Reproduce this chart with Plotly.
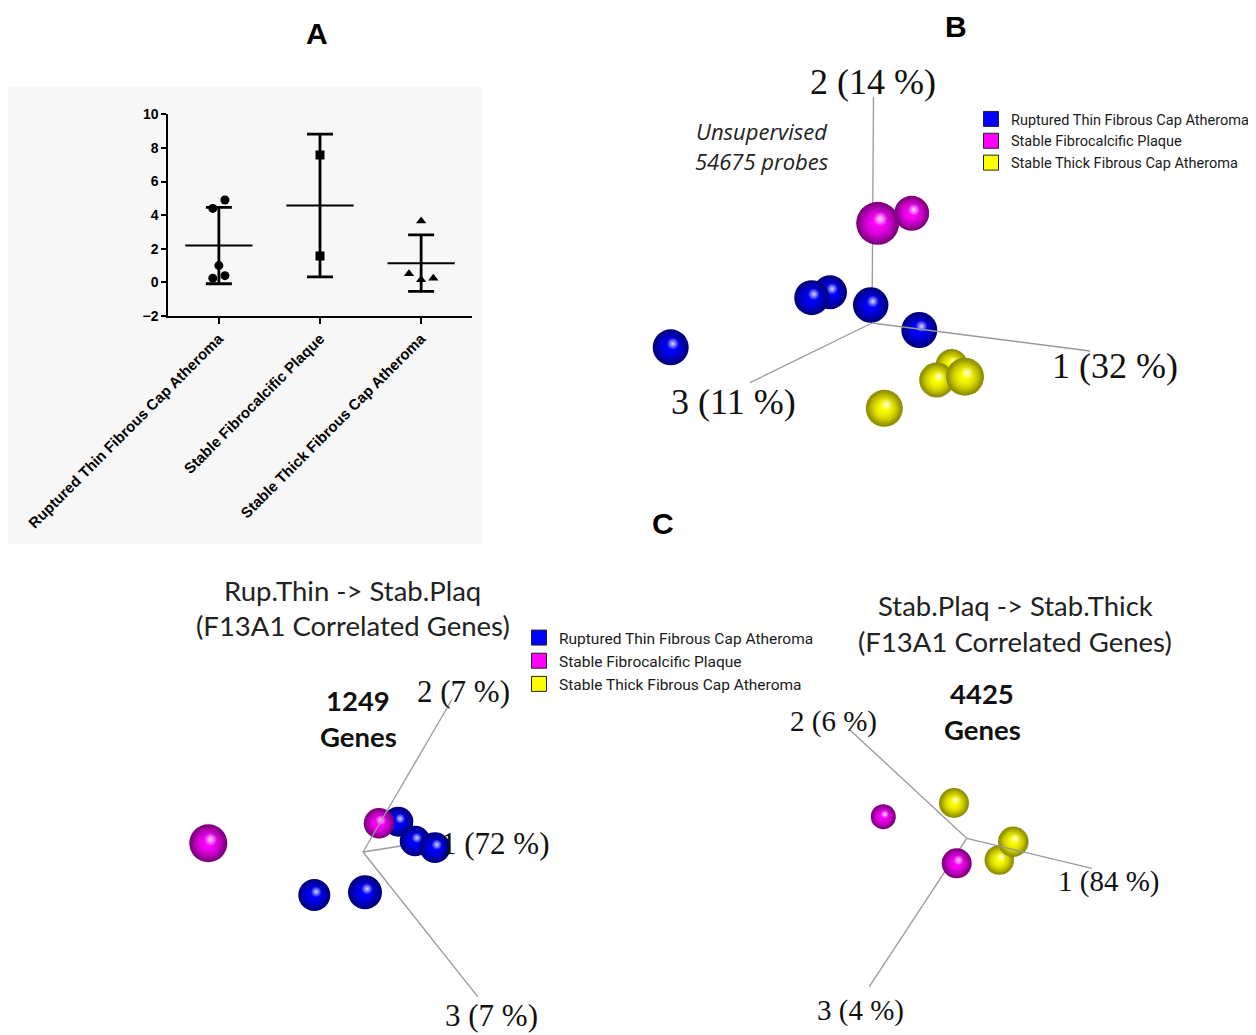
import statistics
import plotly.graph_objects as go

W, H = 1256, 1035          # browser window
OFF = 8                    # default page margin of the html body
FW, FH = W - OFF, H - OFF  # figure size so that it fills the window

# ---------------- Panel A data ----------------
categories_a = ["Ruptured Thin Fibrous Cap Atheroma",
                "Stable Fibrocalcific Plaque",
                "Stable Thick Fibrous Cap Atheroma"]
rupt_thin_values = [4.9, 4.4, 1.0, 0.25, 0.4]
stab_plaq_values = [7.58, 1.57]
stab_thick_values = [3.65, 0.52, 0.15, 0.25]
y_ticks_a = [-2, 0, 2, 4, 6, 8, 10]

# ---------------- PCA data (projected PC coordinates, depth) ----------------
legend_names = ["Ruptured Thin Fibrous Cap Atheroma",
                "Stable Fibrocalcific Plaque",
                "Stable Thick Fibrous Cap Atheroma"]

# Panel B (unsupervised, 54675 probes)
b_blue_x = [-60.3, -42.0, -1.3, 47.3, -201.3]
b_blue_y = [25.3, 30.7, 18.0, -7.0, -24.3]
b_blue_z = [-1.0, -2.0, -0.5, 0.0, 0.0]
b_mag_x = [5.7, 39.7]
b_mag_y = [99.7, 109.7]
b_mag_z = [7.0, -1.0]
b_yel_x = [79.7, 64.7, 93.0, 12.3]
b_yel_y = [-42.0, -57.0, -53.7, -85.3]
b_yel_z = [-4.0, -1.0, 2.0, 1.0]

# Panel C left (1249 genes)
cl_blue_x = [35.3, 52.0, 72.0, -48.7, 2.0]
cl_blue_y = [30.3, 11.0, 4.3, -43.0, -40.3]
cl_blue_z = [0.0, 0.6, 0.7, 2.0, 4.0]
cl_mag_x = [-154.7, 16.0]
cl_mag_y = [8.7, 28.7]
cl_mag_z = [8.0, 0.5]

# Panel C right (4425 genes)
cr_mag_x = [-83.4, -10.0]
cr_mag_y = [21.6, -25.0]
cr_mag_z = [-5.0, 0.0]
cr_yel_x = [-12.7, 46.6, 32.6]
cr_yel_y = [35.3, -3.4, -21.7]
cr_yel_z = [0.0, 0.5, -0.5]

# ---------------- styles ----------------
BLUE, MAG, YEL = "#0000ff", "#ff00ff", "#ffff00"
DARK = {BLUE: "#00007a", MAG: "#7a007a", YEL: "#8a8a00"}
RGB = {BLUE: "0,0,255", MAG: "255,0,255", YEL: "255,255,0"}
SERIF = "Liberation Serif"
SANS = "Liberation Sans"

fig = go.Figure()


def px_x(x):
    return (x - OFF) / FW


def px_y(y):
    return 1 - (y - OFF) / FH


# ---------------- Panel A ----------------
jitter = [[0.06, -0.06, 0.0, -0.06, 0.06], [0.0, 0.0], [0.0, -0.12, 0.0, 0.12]]
symbols = ["circle", "square", "triangle-up"]
for i, vals in enumerate([rupt_thin_values, stab_plaq_values, stab_thick_values]):
    m = statistics.mean(vals)
    sd = statistics.stdev(vals)
    fig.add_trace(go.Scatter(
        x=[i], y=[m], mode="markers",
        marker=dict(symbol="line-ew", size=48, color="black",
                    line=dict(width=2, color="black")),
        error_y=dict(type="data", array=[sd], width=13, thickness=2.8, color="black"),
        showlegend=False, hoverinfo="skip", xaxis="x", yaxis="y"))
    fig.add_trace(go.Scatter(
        x=[i + j for j in jitter[i]], y=vals, mode="markers",
        marker=dict(symbol=symbols[i], size=9, color="black"),
        showlegend=False, xaxis="x", yaxis="y", cliponaxis=False))

fig.update_layout(
    xaxis=dict(domain=[px_x(168.3), px_x(471.7)], range=[-0.5, 2.5],
               tickvals=[0, 1, 2], ticktext=categories_a, tickangle=-45,
               showline=True, linewidth=2, linecolor="black", ticks="outside",
               ticklen=6, tickwidth=2, tickcolor="black", showgrid=False, zeroline=False,
               tickfont=dict(family=SANS, size=15, color="black", weight="bold"),
               anchor="y", fixedrange=True, automargin=False),
    yaxis=dict(domain=[px_y(316), px_y(114.3)], range=[-2, 10], tickvals=y_ticks_a,
               showline=True, linewidth=2, linecolor="black", ticks="outside",
               ticklen=5, tickwidth=2, tickcolor="black", showgrid=False, zeroline=False,
               tickfont=dict(family=SANS, size=14, color="black", weight="bold"),
               anchor="x", fixedrange=True, automargin=False),
)

# ---------------- PCA panels ----------------
panels = [
    dict(ax="2", region=(640, 1256, 40, 440), origin=(872, 323), base=36,
         vecs=[(218, -28), (1.5, 226), (-122, -59.7)], top=[True, False, False],
         groups=[(BLUE, b_blue_x, b_blue_y, b_blue_z),
                 (MAG, b_mag_x, b_mag_y, b_mag_z),
                 (YEL, b_yel_x, b_yel_y, b_yel_z)]),
    dict(ax="3", region=(170, 560, 660, 1035), origin=(363, 852), base=30,
         vecs=[(82, 13), (88.7, 152), (114.7, -144.7)], top=[False, True, False],
         groups=[(BLUE, cl_blue_x, cl_blue_y, cl_blue_z),
                 (MAG, cl_mag_x, cl_mag_y, cl_mag_z)]),
    dict(ax="4", region=(760, 1256, 660, 1035), origin=(966.7, 838.3), base=30,
         vecs=[(125, -30), (-116.7, 108.3), (-97.4, -148.4)], top=[True, True, False],
         groups=[(MAG, cr_mag_x, cr_mag_y, cr_mag_z),
                 (YEL, cr_yel_x, cr_yel_y, cr_yel_z)]),
]

for p in panels:
    x0, x1, y0, y1 = p["region"]
    ox, oy = p["origin"]
    xa, ya = "x" + p["ax"], "y" + p["ax"]
    fig.layout["xaxis" + p["ax"]] = dict(domain=[px_x(x0), min(1, px_x(x1))],
                                         range=[x0 - ox, min(x1, OFF + FW) - ox],
                                         visible=False, fixedrange=True, anchor=ya)
    fig.layout["yaxis" + p["ax"]] = dict(domain=[max(0, px_y(y1)), px_y(y0)],
                                         range=[oy - min(y1, OFF + FH), oy - y0],
                                         visible=False, fixedrange=True, anchor=xa)

    def axis_line(v):
        fig.add_trace(go.Scatter(x=[0, v[0]], y=[0, v[1]], mode="lines",
                                 line=dict(color="#999999", width=1.3),
                                 showlegend=False, hoverinfo="skip",
                                 xaxis=xa, yaxis=ya, cliponaxis=False))

    for v, t in zip(p["vecs"], p["top"]):
        if not t:
            axis_line(v)

    spheres = []
    for color, xs, ys, zs in p["groups"]:
        for x, y, z in zip(xs, ys, zs):
            spheres.append((z, x, y, color))
    spheres.sort(key=lambda s: s[0])
    for z, x, y, color in spheres:
        d = p["base"] + z
        common = dict(mode="markers", showlegend=False, hoverinfo="skip",
                      xaxis=xa, yaxis=ya, cliponaxis=False)
        fig.add_trace(go.Scatter(x=[x], y=[y], marker=dict(
            size=d, color=DARK[color], line=dict(width=0),
            gradient=dict(type="radial", color=color)), **common))
        fig.add_trace(go.Scatter(x=[x], y=[y], marker=dict(
            size=d * 0.86, color="rgba(%s,0)" % RGB[color], line=dict(width=0),
            gradient=dict(type="radial", color=color)), **common))
        fig.add_trace(go.Scatter(x=[x + 0.06 * d], y=[y + 0.1 * d], marker=dict(
            size=d * 0.34, color="rgba(255,255,255,0)", line=dict(width=0),
            gradient=dict(type="radial", color="rgba(255,255,255,0.85)")), **common))

    for v, t in zip(p["vecs"], p["top"]):
        if t:
            axis_line(v)

# ---------------- legends ----------------
for lg in ["legend", "legend2"]:
    for name, color in zip(legend_names, [BLUE, MAG, YEL]):
        fig.add_trace(go.Scatter(
            x=[None], y=[None], mode="markers", name=name, legend=lg,
            marker=dict(symbol="square", size=15, color=color,
                        line=dict(width=1, color="#222222")),
            xaxis="x2", yaxis="y2"))

fig.update_layout(
    legend=dict(x=px_x(971), y=px_y(103), xanchor="left", yanchor="top",
                bgcolor="rgba(0,0,0,0)", borderwidth=0, tracegroupgap=0,
                font=dict(family="Roboto", size=14.5, color="#1a1a1a")),
    legend2=dict(x=px_x(519), y=px_y(621), xanchor="left", yanchor="top",
                 bgcolor="rgba(0,0,0,0)", borderwidth=0, tracegroupgap=0,
                 font=dict(family="Roboto", size=15.5, color="#1a1a1a")),
)

# ---------------- annotations ----------------
ann = []


def text(x, y, s, family, size, weight="normal", style="normal", color="#111111"):
    ann.append(dict(x=px_x(x), y=px_y(y), xref="paper", yref="paper", text=s,
                    showarrow=False, xanchor="center", yanchor="middle",
                    font=dict(family=family, size=size, color=color,
                              weight=weight, style=style)))


text(316.7, 33, "A", SANS, 30, weight="bold", color="black")
text(956, 27, "B", SANS, 30, weight="bold", color="black")
text(663, 523, "C", SANS, 30, weight="bold", color="black")

text(762, 131, "Unsupervised", "Open Sans", 22, style="italic", color="#222222")
text(762, 161, "54675 probes", "Open Sans", 22, style="italic", color="#222222")

text(873, 82, "2 (14 %)", SERIF, 36)
text(1115, 366, "1 (32 %)", SERIF, 36)
text(733, 402, "3 (11 %)", SERIF, 36)

text(352.6, 590, "Rup.Thin -> Stab.Plaq", "Lato", 27.5, color="#222222")
text(352.6, 625, "(F13A1 Correlated Genes)", "Lato", 27.5, color="#222222")
text(358.3, 700.7, "1249", "Lato", 27.5, weight="bold", color="#111111")
text(358.3, 736.7, "Genes", "Lato", 27.5, weight="bold", color="#111111")
text(463.3, 691.7, "2 (7 %)", SERIF, 31)
text(495, 843.3, "1 (72 %)", SERIF, 31)
text(491.7, 1015, "3 (7 %)", SERIF, 31)

text(1015, 605, "Stab.Plaq -> Stab.Thick", "Lato", 27.5, color="#222222")
text(1015, 641.7, "(F13A1 Correlated Genes)", "Lato", 27.5, color="#222222")
text(982.3, 693.3, "4425", "Lato", 27.5, weight="bold", color="#111111")
text(982.3, 729.3, "Genes", "Lato", 27.5, weight="bold", color="#111111")
text(833.3, 721.7, "2 (6 %)", SERIF, 29)
text(1108, 881.7, "1 (84 %)", SERIF, 29)
text(860, 1010, "3 (4 %)", SERIF, 29)

fig.update_layout(
    width=FW, height=FH, margin=dict(l=0, r=0, t=0, b=0, autoexpand=False),
    paper_bgcolor="white", plot_bgcolor="rgba(0,0,0,0)",
    annotations=ann,
    shapes=[dict(type="rect", xref="paper", yref="paper", layer="below",
                 x0=px_x(8), x1=px_x(482), y0=px_y(544), y1=px_y(87),
                 fillcolor="#f7f7f7", line=dict(width=0))],
    hovermode=False,
)

fig.write_html("out.html")
